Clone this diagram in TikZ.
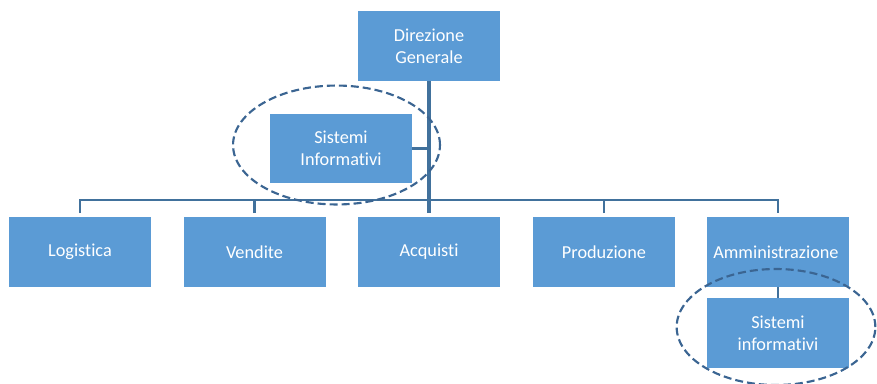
\documentclass[tikz,border=0pt]{standalone}
\usepackage{fontspec}
\setmainfont{Carlito}[RawFeature={-liga}]
\usetikzlibrary{positioning}
\definecolor{boxblue}{HTML}{5B9BD5}
\definecolor{linkblue}{HTML}{41719C}
\definecolor{ringblue}{HTML}{3B6592}

\begin{document}
\begin{tikzpicture}[x=0.75pt, y=-0.75pt,
  every node/.style={font=\fontsize{13.7}{16.5}\selectfont},
  unit/.style={fill=boxblue, text=white, minimum width=106.5pt, minimum height=52pt,
    inner sep=0pt, align=center},
  link/.style={draw=linkblue, line width=1.7pt},
  trunk/.style={draw=linkblue, line width=2.5pt},
  ring/.style={draw=ringblue, line width=1.6pt, dash pattern=on 6pt off 3pt}]
  \useasboundingbox (0,0) rectangle (877,383);

  % Vertici
  \node[unit] (dg) at (429,46) {Direzione\\Generale};
  \node[unit] (si) at (341,148.5) {Sistemi\\Informativi};

  % Funzioni
  \foreach \x/\id/\label in {
    80/log/Logistica,
    254.5/ven/Vendite,
    429/acq/Acquisti,
    604/pro/Produzione,
    778/amm/Amministrazione
  }{
    \node[unit] (\id) at (\x,252) {\label};
  }
  \node[unit] (si2) at (778,333) {Sistemi\\informativi};

  % Collegamenti
  \coordinate (bus) at (0,200);
  \draw[trunk, shorten >=3pt] (dg.south) -- (acq.north);
  \draw[link] (si.east) -- (si.east -| dg.south);
  \draw[link, shorten <=3pt, shorten >=3pt] (log.north) |- (bus -| amm.north) -- (amm.north);
  \foreach \id in {ven, pro}{
    \draw[link, shorten <=3pt] (\id.north) -- (\id.north |- bus);
  }
  \draw[link] (amm.south) -- (si2.north);

  % Evidenziazioni
  \draw[ring] (336.5,145) ellipse [x radius=77.6pt, y radius=44.6pt];
  \draw[ring] (776,327) ellipse [x radius=74.5pt, y radius=43.5pt];
\end{tikzpicture}
\end{document}
